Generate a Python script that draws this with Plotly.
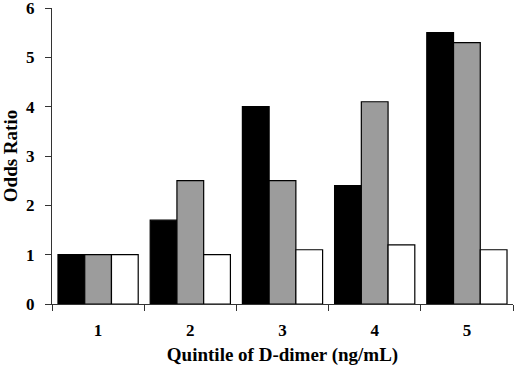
import plotly.graph_objects as go

categories = ["1", "2", "3", "4", "5"]
series_black = [1.0, 1.7, 4.0, 2.4, 5.5]
series_grey = [1.0, 2.5, 2.5, 4.1, 5.3]
series_white = [1.0, 1.0, 1.1, 1.2, 1.1]
y_ticks = [0, 1, 2, 3, 4, 5, 6]

font_family = "Liberation Serif"

fig = go.Figure()
for name, vals, color in [("A", series_black, "#000000"),
                          ("B", series_grey, "#9c9c9c"),
                          ("C", series_white, "#ffffff")]:
    fig.add_trace(go.Bar(x=categories, y=vals, name=name,
                         marker=dict(color=color, line=dict(color="#000000", width=1.2))))

fig.update_layout(
    width=520, height=376,
    margin=dict(l=52, r=7, t=8, b=72),
    paper_bgcolor="white", plot_bgcolor="white",
    barmode="group", bargap=0.13, bargroupgap=0,
    showlegend=False,
    font=dict(family=font_family, color="black"),
)
fig.update_xaxes(
    type="category", tickson="boundaries", ticks="outside", ticklen=6,
    tickcolor="#333", showline=True, linecolor="#333", linewidth=1,
    tickfont=dict(family=font_family, size=17, weight="bold"),
    ticklabelstandoff=11, automargin=False,
    title=dict(text="<b>Quintile of D-dimer (ng/mL)</b>", font=dict(size=19), standoff=8),
    showgrid=False,
)
fig.update_yaxes(
    range=[0, 6], tickvals=y_ticks, ticks="outside", ticklen=6,
    tickcolor="#333", showline=True, linecolor="#333", linewidth=1,
    tickfont=dict(family=font_family, size=17, weight="bold"),
    ticklabelstandoff=7, automargin=False, ticklabeloverflow="allow",
    title=dict(text="<b>Odds Ratio</b>", font=dict(size=19), standoff=10),
    showgrid=False, zeroline=False,
)
fig.write_html(
    "out.html",
    config={"displayModeBar": False},
    post_script="document.body.style.margin='0';document.body.style.overflow='hidden';",
)
